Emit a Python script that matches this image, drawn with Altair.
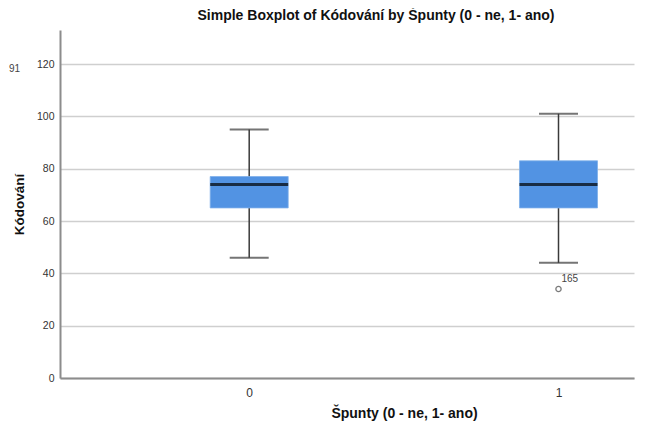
import altair as alt
import pandas as pd

# ---- data ----
categories = [0, 1]
lower_whisker = [46, 44]
q1 = [65, 65]
median = [74, 74]
q3 = [77, 83]
upper_whisker = [95, 101]

outlier_x = [1]
outlier_y = [34]
outlier_label = ["165"]

stray_label = ["91"]
stray_y = [118]

y_ticks = [0, 20, 40, 60, 80, 100, 120]

box = pd.DataFrame({
    "cat": categories,
    "lo": lower_whisker,
    "q1": q1,
    "med": median,
    "q3": q3,
    "hi": upper_whisker,
})
out = pd.DataFrame({"cat": outlier_x, "val": outlier_y, "lab": outlier_label})
stray = pd.DataFrame({"val": stray_y, "lab": stray_label})

FONT = "Liberation Sans"
BOX_COLOR = "#5293e3"
LINE_COLOR = "#3a3a3a"

xscale = alt.Scale(domain=[-0.6117, 1.2441], nice=False, zero=False, padding=0)
yscale = alt.Scale(domain=[0, 133], nice=False, zero=True, padding=0)

xaxis = alt.Axis(
    values=categories, format="d", grid=False, ticks=False,
    labelPadding=9, labelFontSize=12, labelColor="#333333", labelFont=FONT,
    domainColor="#8c8c8c", domainWidth=2,
    title="Špunty (0 - ne, 1- ano)", titleFont=FONT, titleFontSize=14,
    titleFontWeight="bold", titleColor="#111111",
    titleX=344, titleY=35, titleBaseline="middle", titleAlign="center",
)
yaxis = alt.Axis(
    values=y_ticks, grid=True, gridColor="#cfcfcf", gridWidth=1.5,
    ticks=False, labelPadding=6, labelFontSize=10.5, labelColor="#333333",
    labelFont=FONT, domainColor="#8c8c8c", domainWidth=2,
    title="Kódování", titleFont=FONT, titleFontSize=13.5, titleFontWeight="bold",
    titleColor="#111111", titleX=-37, titleBaseline="alphabetic",
)

base = alt.Chart(box)

whisker = base.mark_rule(color=LINE_COLOR, strokeWidth=1.5).encode(
    x=alt.X("cat:Q", scale=xscale, axis=xaxis),
    y=alt.Y("lo:Q", scale=yscale, axis=yaxis),
    y2="hi:Q",
)
boxes = base.mark_bar(color=BOX_COLOR, size=78, stroke="#7fb0ea", strokeWidth=0.8).encode(
    x=alt.X("cat:Q", scale=xscale),
    y=alt.Y("q1:Q", scale=yscale),
    y2="q3:Q",
)
med = base.mark_tick(color="#000000", size=78, thickness=3, orient="horizontal").encode(
    x=alt.X("cat:Q", scale=xscale),
    y=alt.Y("med:Q", scale=yscale),
)
cap_lo = base.mark_tick(color=LINE_COLOR, size=39, thickness=2, orient="horizontal").encode(
    x=alt.X("cat:Q", scale=xscale),
    y=alt.Y("lo:Q", scale=yscale),
)
cap_hi = base.mark_tick(color=LINE_COLOR, size=39, thickness=2, orient="horizontal").encode(
    x=alt.X("cat:Q", scale=xscale),
    y=alt.Y("hi:Q", scale=yscale),
)
pts = alt.Chart(out).mark_point(shape="circle", filled=False, size=28,
                                color="#444444", strokeWidth=1.3).encode(
    x=alt.X("cat:Q", scale=xscale),
    y=alt.Y("val:Q", scale=yscale),
)
pt_lab = alt.Chart(out).mark_text(align="left", baseline="middle", dx=3, dy=-10,
                                  fontSize=10, font=FONT, color="#444444").encode(
    x=alt.X("cat:Q", scale=xscale),
    y=alt.Y("val:Q", scale=yscale),
    text="lab:N",
)
stray_txt = alt.Chart(stray).mark_text(align="left", baseline="middle",
                                       fontSize=10, font=FONT, color="#444444").encode(
    x=alt.value(-51),
    y=alt.Y("val:Q", scale=yscale),
    text="lab:N",
)

chart = alt.layer(whisker, boxes, med, cap_lo, cap_hi, pts, pt_lab, stray_txt).properties(
    width=574,
    height=348,
    autosize="none",
    background="white",
    padding={"left": 52, "top": 22, "right": 2, "bottom": 47},
    title=alt.TitleParams(
        "Simple Boxplot of Kódování by Špunty (0 - ne, 1- ano)",
        font=FONT, fontSize=14, fontWeight="bold", color="#111111",
        anchor="middle", dx=29, offset=7,
    ),
).configure_view(stroke="transparent", strokeWidth=0)

chart.save("out.html", embed_options={"renderer": "svg", "actions": False})
